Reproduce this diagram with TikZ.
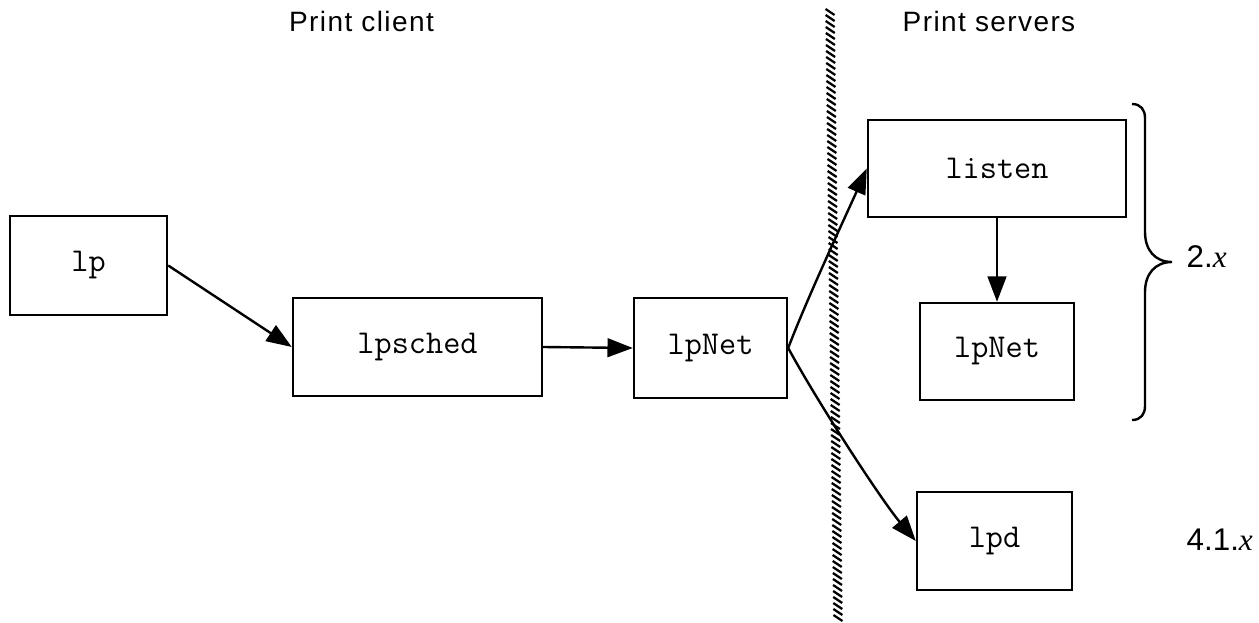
\documentclass[tikz,border=0pt]{standalone}
\usepackage{fontspec}
\setmainfont{Liberation Sans}
\newfontfamily\headfont{Liberation Sans}[LetterSpace=5]
\newfontfamily\varfont{Liberation Serif}
\usetikzlibrary{arrows.meta}

\tikzset{
  procbox/.style={draw, line width=1.8pt, inner sep=0pt,
    font=\ttfamily\fontsize{25}{29}\selectfont},
  flow/.style={line width=1.8pt, -{Triangle[length=19pt,width=14pt]}},
  heading/.style={anchor=base, font=\headfont\fontsize{21}{25}\selectfont},
  release/.style={anchor=base west, font=\fontsize{23.5}{27}\selectfont},
  hatch/.style={line width=1.7pt},
  bracepath/.style={line width=1.8pt}
}

\begin{document}
\begin{tikzpicture}[x=0.75pt,y=-0.75pt]
  \useasboundingbox[fill=white] (0,0) rectangle (1259,623);

  % column headings
  \node[heading] (hclient) at (361.5,32) {Print client};
  \node[heading] (hserver) at (989,32) {Print servers};

  % client side
  \node[procbox, minimum width=117.75pt, minimum height=74.25pt] (lp) at (88.5,265.5) {lp};
  \node[procbox, minimum width=186.75pt, minimum height=73.5pt] (lpsched) at (417.5,347) {lpsched};
  \node[procbox, minimum width=114.75pt, minimum height=75pt] (lpNetC) at (710.5,348) {lpNet};

  % server side
  \node[procbox, minimum width=193.5pt, minimum height=72.75pt] (listen) at (997,168.5) {listen\hspace{21.75pt}};
  \node[procbox, minimum width=115.5pt, minimum height=72.75pt] (lpNetS) at (997,351.5) {lpNet};
  \node[procbox, minimum width=116.25pt, minimum height=73.5pt] (lpd) at (994.5,541) {lpd};

  % network boundary
  \foreach \yy in {12,18,...,620} {
    \pgfmathsetmacro\xc{830+8*(\yy-10)/613}
    \draw[hatch] (\xc-4.5,\yy-3) -- (\xc+4.5,\yy+3);
  }

  % connectors
  \draw[flow] (lp.east) -- (lpsched.west);
  \draw[flow] (lpsched.east) -- (lpNetC.west);
  \draw[flow] (lpNetC.east) .. controls (808,296) and (848,211) .. (listen.west);
  \draw[flow] (lpNetC.east) .. controls (818,403) and (882,501) .. (lpd.west);
  \draw[flow] (listen.south) -- (lpNetS.north);

  % release grouping
  \coordinate (btip) at (1172,262);
  \draw[bracepath] (1132,104) .. controls (1141,104) and (1145,110) .. (1145,118)
    -- (1145,232) .. controls (1145,250) and (1155,262) .. (btip)
    .. controls (1155,262) and (1145,274) .. (1145,292)
    -- (1145,406) .. controls (1145,414) and (1141,420) .. (1132,420);
  \node[release] (r2) at (1182,268) {2.{\varfont\itshape x}};
  \node[release] (r41) at (1182,550) {4.1.{\varfont\itshape x}};
\end{tikzpicture}
\end{document}
